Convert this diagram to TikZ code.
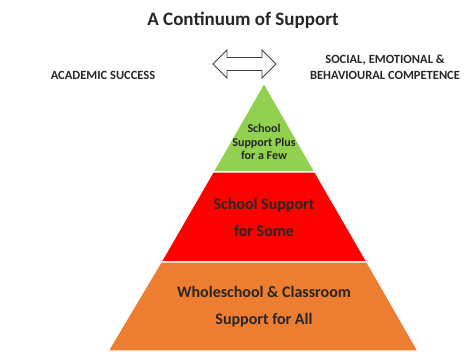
\documentclass[tikz,border=0pt]{standalone}
\usepackage{fontspec}
\setmainfont{Carlito}
\definecolor{fewgreen}{HTML}{92D050}
\definecolor{somered}{HTML}{FF0000}
\definecolor{allorange}{HTML}{ED7D31}
\begin{document}
\begin{tikzpicture}[x=1pt,y=-1pt]

        \useasboundingbox (0,0) rectangle (465,351);

        % pyramid tiers
        \begin{scope}[draw=white,line width=1.2pt]
          \filldraw[fill=fewgreen]  (264,83) -- (315,172) -- (213,172) -- cycle;
          \filldraw[fill=somered]   (213,172) -- (315,172) -- (367,262) -- (161,262) -- cycle;
          \filldraw[fill=allorange] (161,262) -- (367,262) -- (418,351) -- (108,351) -- cycle;
        \end{scope}

        % double arrow
        \coordinate (l) at (213,64);
        \coordinate (r) at (276,64);
        \draw[black!75,line width=0.8pt,line join=miter]
          (l) -- (227,50) -- (227,57.5) -- (262,57.5) -- (262,50) -- (r)
          -- (262,78) -- (262,70.5) -- (227,70.5) -- (227,78) -- cycle;

        \begin{scope}[every node/.style={align=center,text=black!85}]
          \node[font=\bfseries\fontsize{19}{21}\selectfont] (title) at (243,20) {A Continuum of Support};
          \node[font=\bfseries\fontsize{12.5}{16}\selectfont] (acad) at (103,75) {ACADEMIC SUCCESS};
          \node[font=\bfseries\fontsize{12.5}{16}\selectfont] (sebc) at (385,67) {SOCIAL, EMOTIONAL \&\\BEHAVIOURAL COMPETENCE};
          \node[font=\bfseries\fontsize{12}{13.5}\selectfont] (few) at (264,142) {School\\Support Plus\\for a Few};
          \node[font=\bfseries\fontsize{16}{27}\selectfont] (some) at (264,217) {School Support\\for Some};
          \node[font=\bfseries\fontsize{16}{27}\selectfont] (all) at (264,307) {Wholeschool \& Classroom\\Support for All};
        \end{scope}

      \end{tikzpicture}
\end{document}
